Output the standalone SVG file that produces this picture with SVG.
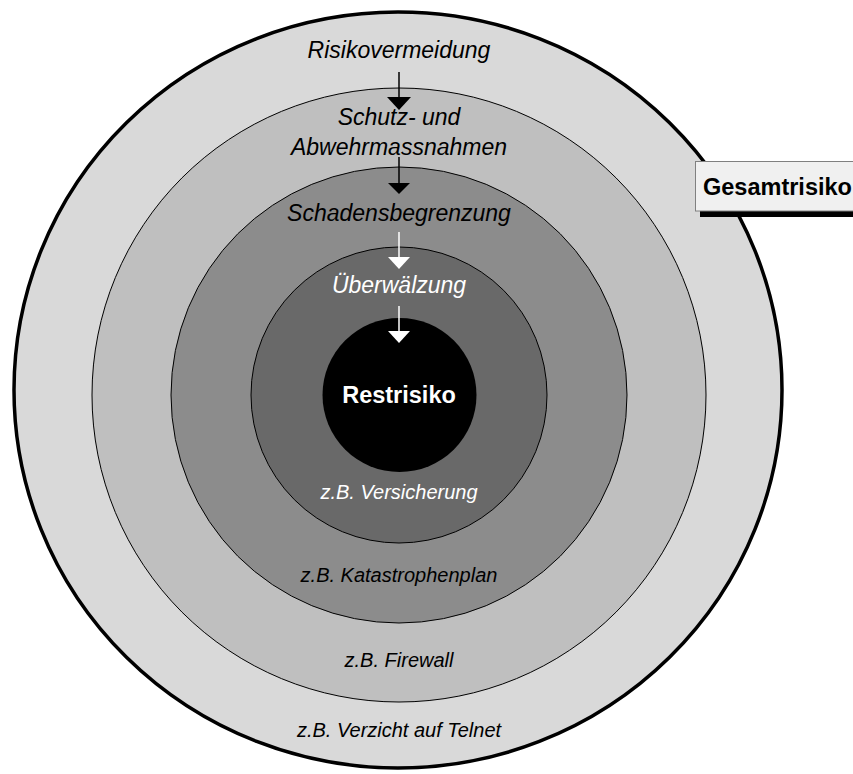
<svg xmlns="http://www.w3.org/2000/svg" width="853" height="774" viewBox="0 0 853 774">
<style>
.t{font-family:"Liberation Sans",Arial,sans-serif;font-style:italic;text-anchor:middle}
.big{font-size:23px}
.small{font-size:20px}
.ring{stroke:#000;stroke-width:1}
</style>
<rect width="853" height="774" fill="#fff"/>
<g id="gesamt">
<ellipse cx="398" cy="390" rx="384" ry="378" fill="#d9d9d9" stroke="#000" stroke-width="3.5"/>
</g>
<g id="schutz"><circle class="ring" cx="399" cy="395" r="307" fill="#bfbfbf"/></g>
<g id="schaden"><circle class="ring" cx="399" cy="395" r="228" fill="#8c8c8c"/></g>
<g id="ueberw"><circle class="ring" cx="399" cy="395" r="148" fill="#696969"/></g>
<g id="rest"><circle cx="399.5" cy="395" r="77" fill="#000"/>
<text x="399" y="403" font-family="Liberation Sans,Arial,sans-serif" font-weight="bold" font-size="23.5" fill="#fff" text-anchor="middle">Restrisiko</text></g>
<g id="labels">
<text class="t big" x="399" y="58" fill="#000">Risikovermeidung</text>
<text class="t big" x="399" y="125" fill="#000">Schutz- und</text>
<text class="t big" x="399" y="155" fill="#000">Abwehrmassnahmen</text>
<text class="t big" x="399" y="221" fill="#000">Schadensbegrenzung</text>
<text class="t big" x="399" y="293" fill="#fff">Überwälzung</text>
<text class="t small" x="399" y="499" fill="#fff">z.B. Versicherung</text>
<text class="t small" x="399" y="582" fill="#000">z.B. Katastrophenplan</text>
<text class="t small" x="399" y="667" fill="#000">z.B. Firewall</text>
<text class="t small" x="399" y="737" fill="#000">z.B. Verzicht auf Telnet</text>
</g>
<g id="connectors">
<line x1="399" y1="72" x2="399" y2="99" stroke="#000" stroke-width="1.5"/>
<polygon points="387,97 411,97 399,110" fill="#000"/>
<line x1="399" y1="157" x2="399" y2="185" stroke="#000" stroke-width="1.5"/>
<polygon points="388,183 410,183 399,194" fill="#000"/>
<line x1="399" y1="232" x2="399" y2="259" stroke="#fff" stroke-width="1.5"/>
<polygon points="388,257 410,257 399,269" fill="#fff"/>
<line x1="399" y1="306" x2="399" y2="333" stroke="#fff" stroke-width="1.5"/>
<polygon points="388,331 410,331 399,343" fill="#fff"/>
</g>
<g id="gesamtrisiko-box">
<rect x="700" y="166" width="160" height="51" fill="#000"/>
<rect x="695.5" y="161.5" width="165" height="49.5" fill="#f0f0f0" stroke="#808080" stroke-width="1"/>
<text x="703" y="195" font-family="Liberation Sans,Arial,sans-serif" font-weight="bold" font-size="23.5" fill="#000">Gesamtrisiko</text>
</g>
</svg>
